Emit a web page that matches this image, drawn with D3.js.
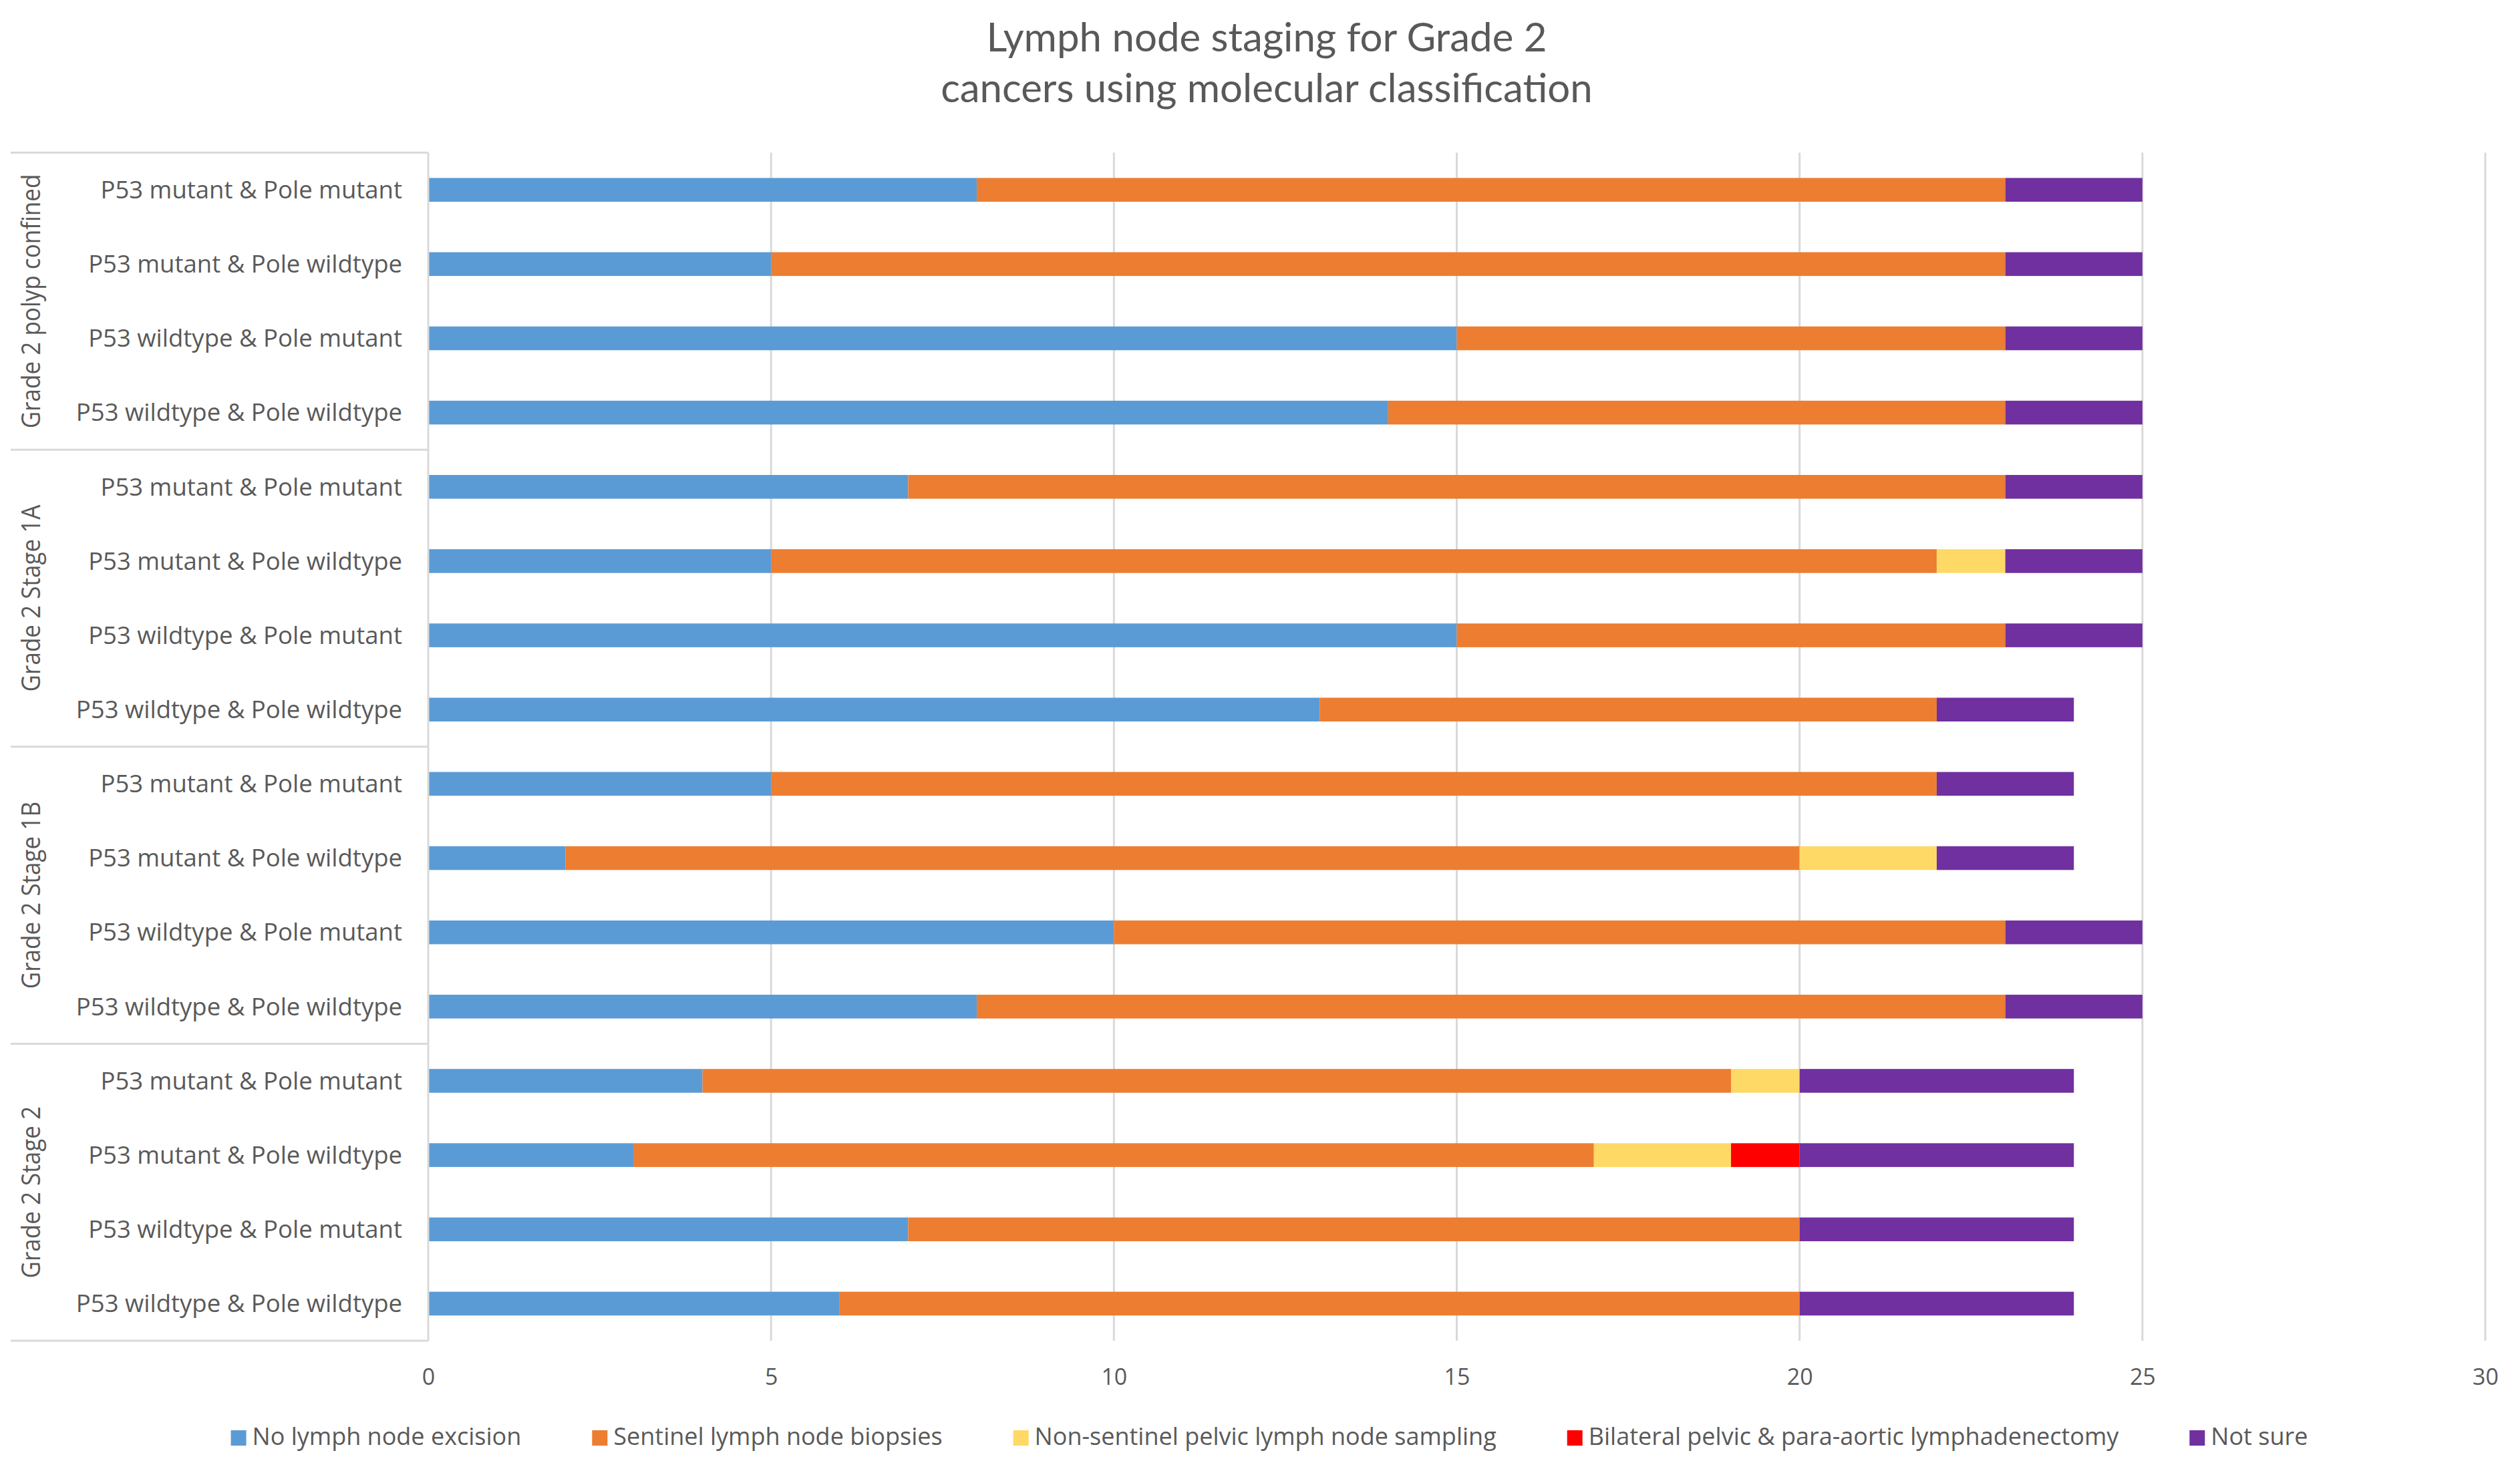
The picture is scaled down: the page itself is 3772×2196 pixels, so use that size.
<!DOCTYPE html>
<html>
<head>
<meta charset="utf-8">
<script src="https://cdn.jsdelivr.net/npm/d3@7"></script>
<style>
  html, body { margin: 0; padding: 0; background: #ffffff; }
  svg { display: block; }
</style>
</head>
<body>
<svg id="chart" width="3772" height="2196"></svg>
<script>
// ---------- data ----------
const titleLines = ["Lymph node staging for Grade 2", "cancers using molecular classification"];
const groups = ["Grade 2 polyp confined", "Grade 2 Stage 1A", "Grade 2 Stage 1B", "Grade 2 Stage 2"];
const subtypes = ["P53 mutant & Pole mutant", "P53 mutant & Pole wildtype", "P53 wildtype & Pole mutant", "P53 wildtype & Pole wildtype"];
const seriesNames = ["No lymph node excision", "Sentinel lymph node biopsies", "Non-sentinel pelvic lymph node sampling", "Bilateral pelvic & para-aortic lymphadenectomy", "Not sure"];
const seriesColors = ["#5B9BD5", "#ED7D31", "#FFD966", "#FF0000", "#7030A0"];
const noExcision  = [8, 5, 15, 14,  7, 5, 15, 13,  5, 2, 10, 8,  4, 3, 7, 6];
const sentinel    = [15, 18, 8, 9,  16, 17, 8, 9,  17, 18, 13, 15,  15, 14, 13, 14];
const nonSentinel = [0, 0, 0, 0,  0, 1, 0, 0,  0, 2, 0, 0,  1, 2, 0, 0];
const bilateral   = [0, 0, 0, 0,  0, 0, 0, 0,  0, 0, 0, 0,  0, 1, 0, 0];
const notSure     = [2, 2, 2, 2,  2, 2, 2, 2,  2, 2, 2, 2,  4, 4, 4, 4];
const xTicks = [0, 5, 10, 15, 20, 25, 30];

// ---------- build table ----------
const seriesValues = [noExcision, sentinel, nonSentinel, bilateral, notSure];
const rows = [];
groups.forEach((g, gi) => subtypes.forEach((s, si) => {
  const idx = gi * subtypes.length + si;
  const r = { key: idx, group: g, sub: s };
  seriesNames.forEach((n, k) => r[n] = seriesValues[k][idx]);
  rows.push(r);
}));

const svg = d3.select("#chart");
const textColor = "#595959";
const gridColor = "#D9D9D9";
const labelFont = "'Open Sans', sans-serif";

const pLeft = 641, pRight = 3720, pTop = 228.6, pBottom = 2007;
const x = d3.scaleLinear().domain([0, 30]).range([pLeft, pRight]);
const y = d3.scaleBand().domain(rows.map(d => d.key)).range([pTop, pBottom])
  .paddingInner(0.68).paddingOuter(0.34);
const step = y.step();

// ---------- title ----------
svg.append("g").selectAll("text").data(titleLines).join("text")
  .attr("x", 1896).attr("y", (d, i) => 77 + i * 76)
  .attr("text-anchor", "middle")
  .attr("font-family", "Lato, 'Open Sans', sans-serif")
  .attr("font-size", 60).attr("fill", textColor)
  .text(d => d);

// ---------- gridlines ----------
svg.append("g").selectAll("line").data(xTicks.filter(t => t > 0)).join("line")
  .attr("x1", d => x(d)).attr("x2", d => x(d))
  .attr("y1", pTop).attr("y2", pBottom)
  .attr("stroke", gridColor).attr("stroke-width", 3);

// ---------- bars ----------
const stack = d3.stack().keys(seriesNames);
const stacked = stack(rows);
svg.append("g").selectAll("g").data(stacked).join("g")
  .attr("fill", (d, i) => seriesColors[i])
  .selectAll("rect").data(d => d).join("rect")
  .attr("x", d => x(d[0]))
  .attr("width", d => Math.max(0, x(d[1]) - x(d[0])))
  .attr("y", d => y(d.data.key))
  .attr("height", y.bandwidth());

// ---------- category axis line & group separators ----------
svg.append("line")
  .attr("x1", pLeft).attr("x2", pLeft).attr("y1", pTop).attr("y2", pBottom)
  .attr("stroke", gridColor).attr("stroke-width", 3);
const sepYs = d3.range(groups.length + 1).map(i => pTop + i * subtypes.length * step);
svg.append("g").selectAll("line").data(sepYs).join("line")
  .attr("x1", 16).attr("x2", pLeft).attr("y1", d => d).attr("y2", d => d)
  .attr("stroke", gridColor).attr("stroke-width", 3);

// ---------- category labels ----------
svg.append("g").selectAll("text").data(rows).join("text")
  .attr("x", 602)
  .attr("y", d => y(d.key) + y.bandwidth() / 2)
  .attr("dy", "0.35em")
  .attr("text-anchor", "end")
  .attr("font-family", labelFont).attr("font-size", 36.5).attr("fill", textColor)
  .text(d => d.sub);

// ---------- group labels (slightly condensed) ----------
const gl = svg.append("g").selectAll("text").data(groups).join("text")
  .attr("transform", (d, i) => `translate(60,${pTop + (i + 0.5) * subtypes.length * step}) rotate(-90)`)
  .attr("text-anchor", "middle")
  .attr("font-family", labelFont)
  .attr("font-size", 38.5).attr("fill", textColor)
  .text(d => d);
gl.each(function () {
  const len = this.getComputedTextLength();
  d3.select(this).attr("textLength", len * 0.91).attr("lengthAdjust", "spacingAndGlyphs");
});

// ---------- x axis ----------
const xAxis = d3.axisBottom(x).tickValues(xTicks).tickSize(0).tickPadding(0).tickFormat(d3.format("d"));
const ax = svg.append("g").attr("transform", `translate(0,${pBottom})`).call(xAxis);
ax.select(".domain").remove();
ax.selectAll("text")
  .attr("y", 66).attr("dy", 0)
  .attr("font-family", labelFont).attr("font-size", 34).attr("fill", textColor);

// ---------- legend ----------
const legend = svg.append("g");
const items = legend.selectAll("g").data(seriesNames).join("g");
items.append("rect").attr("width", 23).attr("height", 23).attr("y", -22)
  .attr("fill", (d, i) => seriesColors[i]);
items.append("text").attr("x", 32).attr("y", 0)
  .attr("font-family", labelFont).attr("font-size", 36).attr("fill", textColor)
  .text(d => d);
const widths = [];
items.each(function () { widths.push(32 + d3.select(this).select("text").node().getComputedTextLength()); });
const gap = 106;
const total = d3.sum(widths) + gap * (widths.length - 1);
let cx = 1900 - total / 2;
items.attr("transform", (d, i) => {
  const t = `translate(${cx},2163)`;
  cx += widths[i] + gap;
  return t;
});
</script>
</body>
</html>
